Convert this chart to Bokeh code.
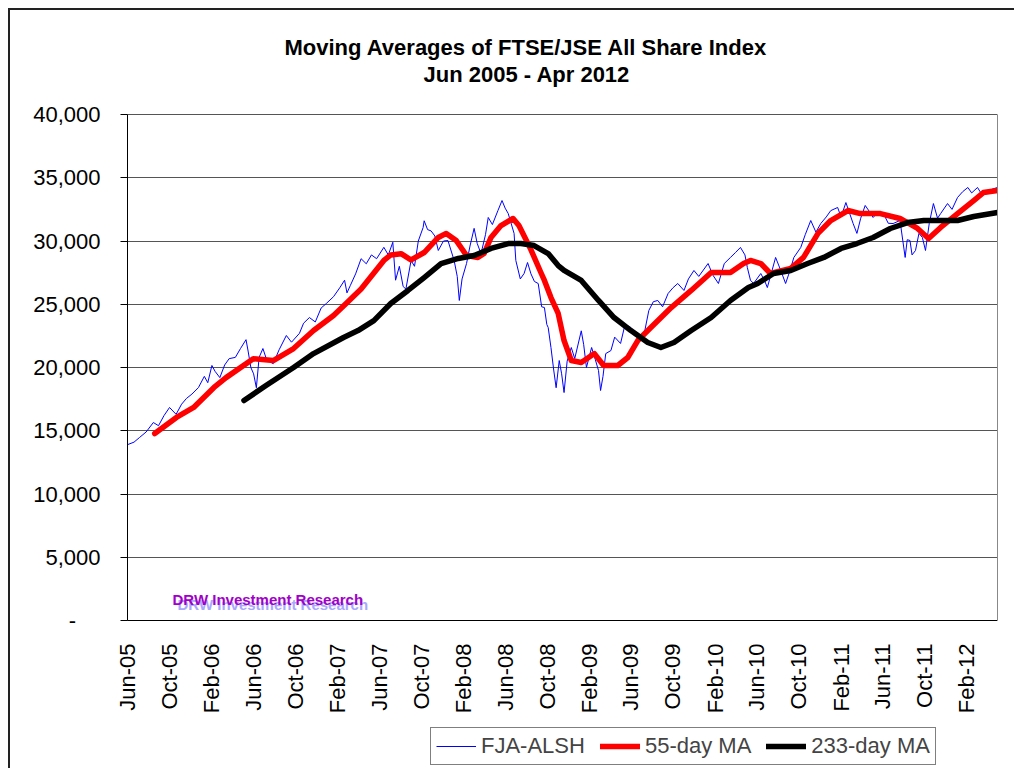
import pandas as pd
from math import pi
from bokeh.plotting import figure
from bokeh.models import (Range1d, FixedTicker, DatetimeTickFormatter, NumeralTickFormatter,
                          Legend, LegendItem, Label, Title, LinearAxis)
from bokeh.embed import file_html
from bokeh.resources import INLINE

# ---------------- data ----------------
fja_dates = [
    "2005-06-01", "2005-06-20", "2005-07-06", "2005-07-25", "2005-08-15", "2005-08-30",
    "2005-09-15", "2005-10-01", "2005-10-20", "2005-11-05", "2005-11-19", "2005-12-05",
    "2005-12-24", "2006-01-10", "2006-01-20", "2006-02-01", "2006-02-10", "2006-02-24",
    "2006-03-10", "2006-03-23", "2006-04-10", "2006-04-25", "2006-05-11", "2006-05-17",
    "2006-05-25", "2006-06-02", "2006-06-10", "2006-06-18", "2006-06-29", "2006-07-10",
    "2006-07-29", "2006-08-15", "2006-09-05", "2006-09-20", "2006-10-13", "2006-10-25",
    "2006-11-11", "2006-11-28", "2006-12-15", "2006-12-30", "2007-01-20", "2007-02-07",
    "2007-02-21", "2007-02-28", "2007-03-10", "2007-03-25", "2007-04-10", "2007-04-25",
    "2007-05-10", "2007-05-25", "2007-06-15", "2007-06-28", "2007-07-11", "2007-07-19",
    "2007-07-30", "2007-08-10", "2007-08-18", "2007-09-02", "2007-09-12", "2007-09-23",
    "2007-10-07", "2007-10-10", "2007-10-20", "2007-10-30", "2007-11-10", "2007-11-20",
    "2007-12-05", "2007-12-18", "2008-01-05", "2008-01-14", "2008-01-20", "2008-01-28",
    "2008-02-10", "2008-02-20", "2008-03-03", "2008-03-12", "2008-03-23", "2008-04-05",
    "2008-04-13", "2008-04-25", "2008-05-11", "2008-05-23", "2008-06-01", "2008-06-10",
    "2008-06-27", "2008-07-02", "2008-07-15", "2008-07-26", "2008-08-05", "2008-08-15",
    "2008-08-25", "2008-09-05", "2008-09-15", "2008-09-23", "2008-09-30", "2008-10-04",
    "2008-10-12", "2008-10-20", "2008-10-27", "2008-11-05", "2008-11-12", "2008-11-19",
    "2008-11-28", "2008-12-10", "2008-12-20", "2009-01-08", "2009-01-15", "2009-01-23",
    "2009-02-07", "2009-02-18", "2009-02-27", "2009-03-05", "2009-03-12", "2009-03-20",
    "2009-04-04", "2009-04-15", "2009-05-02", "2009-05-15", "2009-06-01", "2009-06-12",
    "2009-06-30", "2009-07-12", "2009-07-23", "2009-08-05", "2009-08-18", "2009-09-01",
    "2009-09-17", "2009-10-01", "2009-10-15", "2009-11-02", "2009-11-15", "2009-12-01",
    "2009-12-15", "2010-01-11", "2010-01-25", "2010-02-10", "2010-02-27", "2010-03-17",
    "2010-04-01", "2010-04-15", "2010-04-28", "2010-05-05", "2010-05-14", "2010-05-23",
    "2010-06-13", "2010-06-25", "2010-07-02", "2010-07-15", "2010-07-26", "2010-08-10",
    "2010-08-24", "2010-09-05", "2010-09-17", "2010-10-07", "2010-10-20", "2010-11-05",
    "2010-11-20", "2010-12-04", "2010-12-20", "2011-01-02", "2011-01-22", "2011-02-01",
    "2011-02-15", "2011-03-08", "2011-03-19", "2011-03-30", "2011-04-12", "2011-04-25",
    "2011-05-05", "2011-05-20", "2011-06-04", "2011-06-18", "2011-07-02", "2011-07-22",
    "2011-08-06", "2011-08-12", "2011-08-20", "2011-08-26", "2011-09-05", "2011-09-15",
    "2011-09-25", "2011-10-04", "2011-10-15", "2011-10-27", "2011-11-08", "2011-11-17",
    "2011-12-07", "2011-12-20", "2012-01-05", "2012-01-20", "2012-02-04", "2012-02-15",
    "2012-03-03", "2012-03-15", "2012-04-01", "2012-04-15", "2012-04-30",
]
fja_values = [
    13900, 14100, 14470, 14900, 15650, 15400,
    16200, 16840, 16300, 17100, 17550, 17900,
    18420, 19300, 18800, 20160, 19700, 19200,
    20200, 20700, 20800, 21500, 22200, 21300,
    20000, 19500, 18400, 20800, 21500, 20600,
    20300, 21400, 22530, 22000, 22700, 23500,
    23950, 23600, 24700, 25060, 25600, 26300,
    26900, 25900, 26500, 27400, 28600, 28200,
    28900, 28600, 29500, 28900, 29900, 26900,
    28000, 26400, 26200, 28460, 28000, 30000,
    31070, 31600, 30900, 30800, 30400, 29250,
    30000, 30040, 28460, 27200, 25300, 27000,
    28220, 29600, 31000, 29800, 29000, 30500,
    31860, 31300, 32400, 33200, 32600, 32170,
    30600, 28460, 27000, 27430, 28300, 27400,
    26800, 26640, 24800, 24740, 23400, 23160,
    21580, 19800, 18400, 20550, 19500, 18020,
    20500, 21580, 20700, 22900, 21800, 20000,
    21580, 20600, 19760, 18180, 19300, 21100,
    21340, 22400, 21900, 23400, 23160, 22800,
    22130, 23000, 24500, 25200, 25300, 24800,
    25850, 26300, 26640, 26090, 27000, 27670,
    27200, 28220, 27300, 26640, 28220, 28700,
    29100, 29490, 28900, 27900, 26900, 26640,
    27430, 26800, 26320, 27600, 28700, 27670,
    26640, 27600, 28700, 29490, 30500, 31620,
    30700, 31380, 31900, 32400, 32650, 31900,
    33040, 31380, 30600, 31800, 32810, 32300,
    31860, 32300, 32170, 31400, 31380, 31620,
    28700, 30100, 30040, 28900, 29250, 30600,
    30280, 29250, 31400, 32960, 31800, 32170,
    32960, 32500, 33440, 33900, 34230, 33800,
    34230, 33700, 33750, 34100, 34230,
]

ma55_dates = [
    "2005-08-19", "2005-10-21", "2005-12-10", "2006-02-07", "2006-03-14", "2006-06-01",
    "2006-07-29", "2006-09-26", "2006-11-23", "2007-01-20", "2007-02-27", "2007-04-10",
    "2007-06-15", "2007-07-05", "2007-08-04", "2007-09-02", "2007-10-10", "2007-11-20",
    "2007-12-13", "2008-01-11", "2008-02-10", "2008-03-14", "2008-04-01", "2008-04-21",
    "2008-05-20", "2008-06-24", "2008-07-11", "2008-08-06", "2008-08-15", "2008-09-14",
    "2008-09-23", "2008-10-12", "2008-11-02", "2008-11-19", "2008-12-10", "2009-01-08",
    "2009-02-15", "2009-03-14", "2009-04-24", "2009-05-23", "2009-06-21", "2009-07-29",
    "2009-09-26", "2009-11-23", "2010-01-20", "2010-03-17", "2010-04-24", "2010-05-14",
    "2010-06-13", "2010-07-11", "2010-09-08", "2010-10-15", "2010-11-26", "2011-01-02",
    "2011-02-21", "2011-03-29", "2011-05-26", "2011-07-22", "2011-09-11", "2011-10-13",
    "2011-11-17", "2012-01-05", "2012-02-21", "2012-03-20", "2012-04-30",
]
ma55_values = [
    14780, 16050, 16840, 18420, 19200, 20700,
    20550, 21500, 22920, 24110, 25100, 26200,
    28460, 28900, 29000, 28500, 29090, 30280,
    30600, 30040, 28850, 28700, 29010, 30280,
    31220, 31780, 31220, 29800, 29300, 27430,
    26880, 25530, 24270, 22130, 20550, 20400,
    21100, 20160, 20160, 20790, 22130, 23160,
    24740, 26090, 27510, 27510, 28220, 28460,
    28220, 27430, 27830, 28700, 30600, 31620,
    32410, 32170, 32170, 31780, 30990, 30200,
    31070, 32170, 33200, 33830, 33990,
]

ma233_dates = [
    "2006-05-05", "2006-07-08", "2006-09-26", "2006-11-23", "2007-02-18", "2007-04-01",
    "2007-05-17", "2007-07-05", "2007-08-24", "2007-10-10", "2007-11-28", "2008-01-17",
    "2008-03-03", "2008-04-21", "2008-06-10", "2008-07-17", "2008-08-24", "2008-10-04",
    "2008-11-02", "2008-11-19", "2009-01-08", "2009-02-27", "2009-04-13", "2009-06-01",
    "2009-07-20", "2009-08-27", "2009-10-04", "2009-11-23", "2010-01-20", "2010-03-17",
    "2010-05-08", "2010-06-04", "2010-07-20", "2010-09-08", "2010-10-27", "2010-12-13",
    "2011-02-01", "2011-03-19", "2011-05-05", "2011-06-24", "2011-08-13", "2011-09-29",
    "2011-11-17", "2012-01-05", "2012-02-21", "2012-04-30",
]
ma233_values = [
    17390, 18580, 20000, 21100, 22370, 22920,
    23710, 25060, 26090, 27110, 28220, 28620,
    28850, 29410, 29800, 29800, 29640, 29010,
    28060, 27670, 26880, 25300, 23950, 22920,
    21980, 21580, 21980, 22920, 23950, 25300,
    26320, 26640, 27430, 27670, 28220, 28700,
    29410, 29800, 30280, 30990, 31460, 31620,
    31620, 31620, 31940, 32250,
]

series_names = ["FJA-ALSH", "55-day MA", "233-day MA"]
y_ticks = [0, 5000, 10000, 15000, 20000, 25000, 30000, 35000, 40000]
x_tick_dates = pd.date_range("2005-06-01", "2012-02-01", freq="4MS")
title_lines = ["Moving Averages of FTSE/JSE All Share Index", "Jun 2005 - Apr 2012"]
watermark = "DRW Investment Research"

# ---------------- layout constants (pixels) ----------------
FONT = "Liberation Sans"
W, H = 1006, 760
TOP, RIGHT, BOTTOM = 84, 19, 2
ABOVE = 20                            # room above the 40,000 line (its tick label)
AXIS_X = 117                          # y axis sits 117 px right of the frame's left edge
FRAME_W = W - RIGHT
PLOT_W = FRAME_W - AXIS_X             # width of the dated band
FRAME_H = H - TOP - BOTTOM
PLOT_H = 506                          # height of the 0..40,000 value band
BELOW = FRAME_H - PLOT_H - ABOVE      # room under the zero line (x labels, legend)


def ms(ts):
    return ts.value / 1e6


x_first = pd.Timestamp("2005-06-01")
x_last = pd.Timestamp("2012-04-30")
x_start = x_first - (x_last - x_first) * AXIS_X / PLOT_W
y_top = 40000
y_max = y_top + ABOVE * y_top / PLOT_H
y_min = -BELOW * y_top / PLOT_H

p = figure(width=W, height=H, x_axis_type="datetime",
           x_range=Range1d(ms(x_start), ms(x_last)), y_range=Range1d(y_min, y_max),
           output_backend="svg", toolbar_location=None, title=None,
           min_border_left=0, min_border_right=RIGHT, min_border_top=TOP,
           min_border_bottom=BOTTOM)
p.styles = {"margin-left": "8px", "margin-top": "8px",
            "border-left": "2px solid #222222", "border-top": "2px solid #222222"}
p.background_fill_color = "white"
p.border_fill_color = "white"
p.outline_line_color = None

r_blue = p.line(pd.to_datetime(fja_dates), fja_values, line_color="#0000FF",
                line_width=1)
r_red = p.line(pd.to_datetime(ma55_dates), ma55_values, line_color="#FF0000",
               line_width=5.5, line_join="round", line_cap="round")
r_black = p.line(pd.to_datetime(ma233_dates), ma233_values, line_color="#000000",
                 line_width=5.5, line_join="round", line_cap="round")

# y axis (left), drawn at the first date
p.yaxis.fixed_location = ms(x_first)
p.yaxis.ticker = FixedTicker(ticks=y_ticks)
p.yaxis.bounds = (0, y_top)
p.yaxis.formatter = NumeralTickFormatter(format="0,0")
p.yaxis.major_label_overrides = {0: "-" + "\u00a0" * 4}
p.yaxis.major_label_text_font = FONT
p.yaxis.major_label_text_font_size = "22px"
p.yaxis.major_label_text_color = "black"
p.yaxis.major_tick_out = 7
p.yaxis.major_tick_in = 0
p.yaxis.minor_tick_line_color = None
p.yaxis.axis_line_color = "black"
p.yaxis.major_tick_line_color = "black"
p.yaxis.major_label_standoff = 20

# right frame edge of the plot area
right_axis = LinearAxis(bounds=(0, y_top), ticker=FixedTicker(ticks=[]),
                        axis_line_color="#888888", major_tick_line_color=None,
                        minor_tick_line_color=None, major_label_text_font_size="0px")
p.add_layout(right_axis, "right")

# x axis drawn at value 0
p.xaxis.fixed_location = 0
p.xaxis.bounds = (ms(x_first), ms(x_last))
p.xaxis.ticker = FixedTicker(ticks=[ms(t) for t in x_tick_dates])
fmt = "%b-%y"
p.xaxis.formatter = DatetimeTickFormatter(milliseconds=fmt, seconds=fmt, minsec=fmt,
                                          minutes=fmt, hourmin=fmt, hours=fmt, days=fmt,
                                          months=fmt, years=fmt)
p.xaxis.major_label_orientation = pi / 2
p.xaxis.major_label_text_font = FONT
p.xaxis.major_label_text_font_size = "22px"
p.xaxis.major_label_text_color = "black"
p.xaxis.major_tick_line_color = None
p.xaxis.minor_tick_line_color = None
p.xaxis.axis_line_color = "black"
p.xaxis.major_label_standoff = 17

p.xgrid.visible = False
p.ygrid.grid_line_color = "#555555"
p.ygrid.grid_line_width = 1
p.ygrid.cross_bounds = (ms(x_first), ms(x_last))

# title: stacked panels above the frame (closest first)
p.add_layout(Title(text=" ", text_font_size="1px", standoff=5), "above")
p.add_layout(Title(text=title_lines[1], align="left", offset=AXIS_X + 296, standoff=0,
                   text_font=FONT, text_font_style="bold", text_font_size="22px",
                   text_color="black"), "above")
p.add_layout(Title(text=title_lines[0], align="left", offset=AXIS_X + 157, standoff=0,
                   text_font=FONT, text_font_style="bold", text_font_size="22px",
                   text_color="black"), "above")

# watermark (screen units measured from the frame's bottom-left)
p.add_layout(Label(x=AXIS_X + 50, y=BELOW + 8, x_units="screen", y_units="screen",
                   text=watermark, text_font=FONT, text_font_style="bold",
                   text_font_size="15px", text_color="#a8a8ff", text_baseline="bottom"))
p.add_layout(Label(x=AXIS_X + 45, y=BELOW + 13, x_units="screen", y_units="screen",
                   text=watermark, text_font=FONT, text_font_style="bold",
                   text_font_size="15px", text_color="#a000c8", text_baseline="bottom"))

# legend under the axis labels
legend = Legend(items=[LegendItem(label=series_names[0], renderers=[r_blue]),
                       LegendItem(label=series_names[1], renderers=[r_red]),
                       LegendItem(label=series_names[2], renderers=[r_black])],
                orientation="horizontal", location=(AXIS_X + 303, 3),
                border_line_color="black", border_line_width=1,
                label_text_font=FONT, label_text_font_size="22px",
                glyph_width=40, glyph_height=16, label_standoff=5, spacing=15,
                padding=5, margin=0, background_fill_color="white",
                background_fill_alpha=1.0)
p.add_layout(legend)

open("out.html", "w").write(file_html(p, INLINE))
